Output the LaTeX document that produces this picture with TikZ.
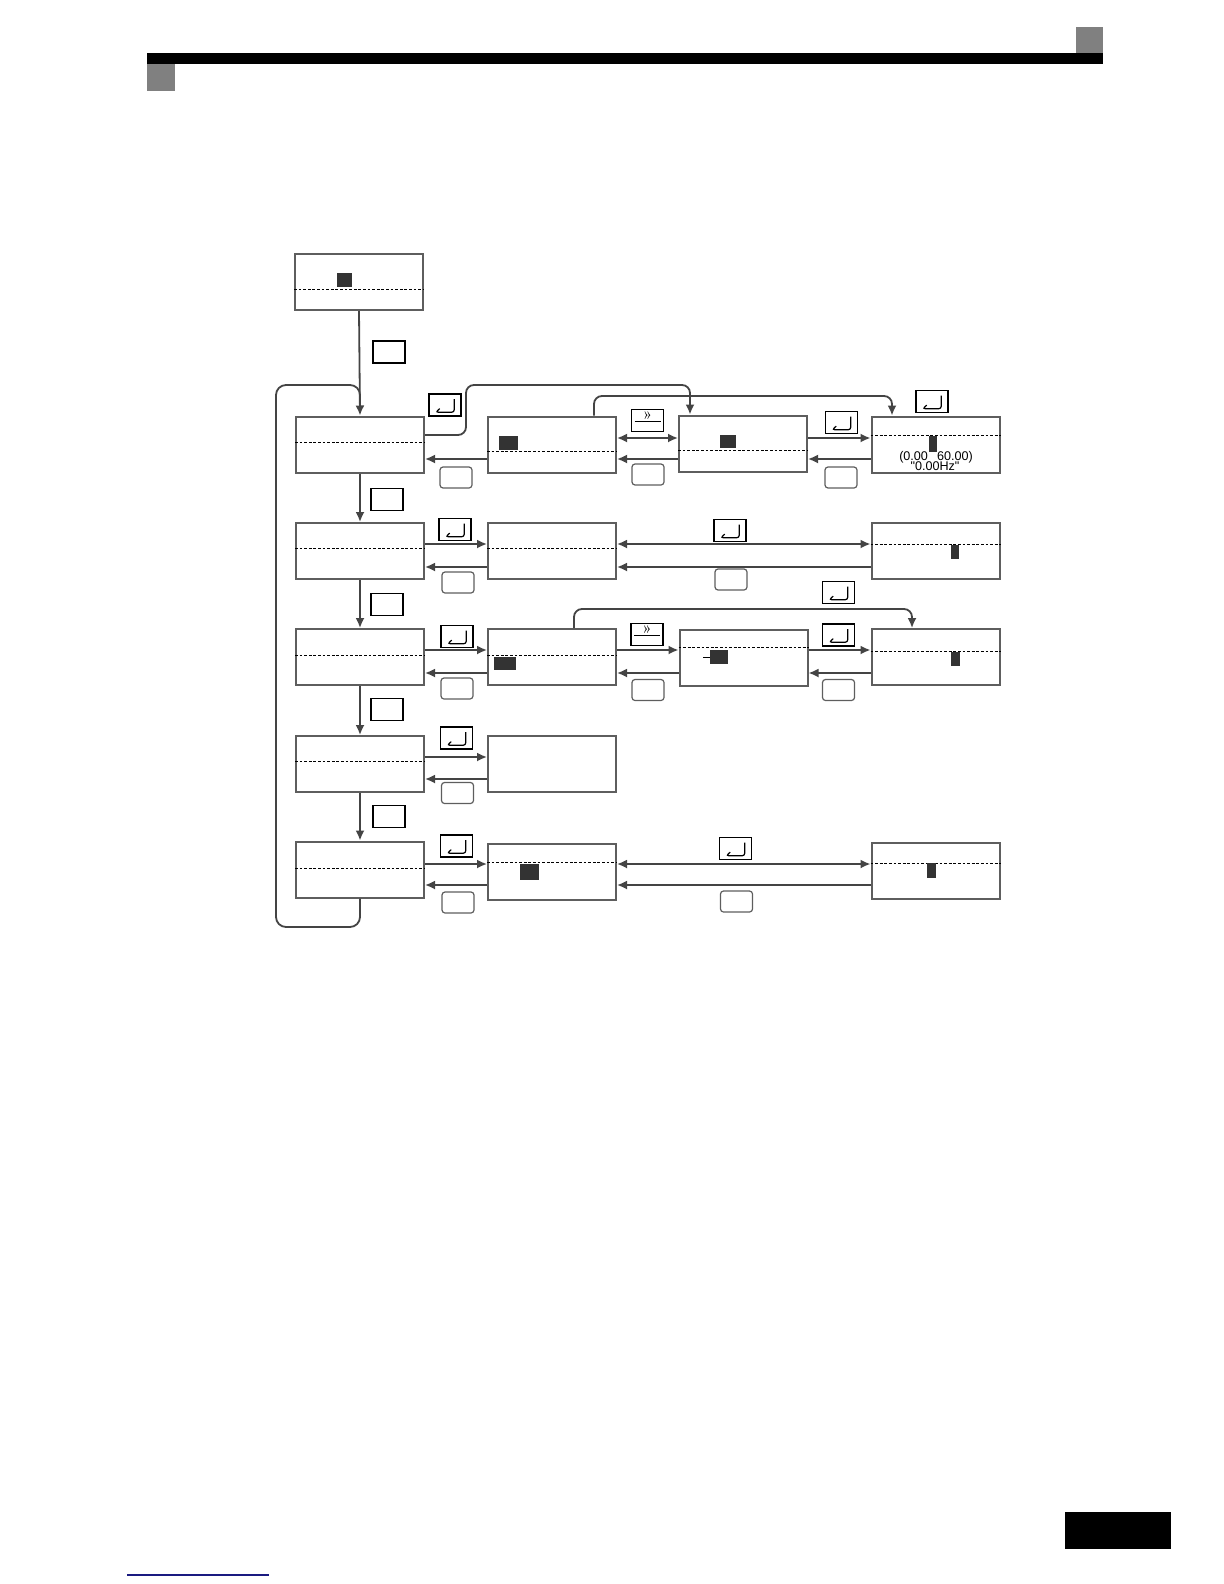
\documentclass[tikz,border=0pt]{standalone}
\usepackage{fontspec}
\newfontfamily\arialfont{Liberation Sans}
\usetikzlibrary{arrows.meta}
\definecolor{boxgray}{HTML}{5E5E5E}
\definecolor{linegray}{HTML}{444444}
\definecolor{fillgray}{HTML}{333333}
\definecolor{lienbleu}{HTML}{1A1A80}
%ligne pointillée dans un écran
\newcommand{\tiret}[2]{\draw[pointille] (#1.west |- 0,#2) -- (#1.east |- 0,#2);}
%touche entrée
\newcommand{\entree}[3]{\node[touche] (#1) at (#2,#3) {};
  \draw[line width=0.6pt,rounded corners=1.2pt] ([xshift=4.6pt,yshift=3pt]#1.center) -- ([xshift=4.6pt,yshift=-3.6pt]#1.center) -- ([xshift=-4.6pt,yshift=-3.6pt]#1.center) -- ([xshift=-2.6pt,yshift=-1.8pt]#1.center);}
%touche décalage
\newcommand{\decale}[3]{\node[touche] (#1) at (#2,#3) {};
  \node[inner sep=0pt,font=\fontsize{8}{8}\selectfont] (#1-g) at ([yshift=2.4pt]#1.center) {»};
  \draw[line width=0.6pt] ([xshift=-6.5pt,yshift=-0.5pt]#1.center) -- ([xshift=6.5pt,yshift=-0.5pt]#1.center);}
\begin{document}
\begin{tikzpicture}[x=0.5pt,y=-0.5pt,
  ecran/.style={draw=boxgray,line width=1pt,minimum width=64pt,minimum height=28pt,inner sep=0pt},
  touche/.style={draw=black,line width=0.6pt,minimum width=16pt,minimum height=11pt,inner sep=0pt},
  esc/.style={touche,draw=boxgray,minimum height=10.5pt,rounded corners=1.5pt},
  trait/.style={draw=linegray,line width=0.9pt},
  fleche/.style={trait,-{Latex[length=5pt,width=4.5pt]}},
  flechedouble/.style={trait,{Latex[length=5pt,width=4.5pt]}-{Latex[length=5pt,width=4.5pt]}},
  pointille/.style={draw=black,line width=0.5pt,dash pattern=on 1.4pt off 0.9pt},
  curseur/.style={fill=fillgray},
  texte/.style={inner sep=0pt,font=\arialfont\fontsize{6.3}{6.5}\selectfont}]
\useasboundingbox (0,0) rectangle (1224,1584);
%en-tête
\fill (147,53) rectangle (1103,64);
\fill[gray] (1076,27) rectangle (1103,53);
\fill[gray] (147,64) rectangle (175,91);
%pied de page
\fill (1065,1512) rectangle (1171,1549);
\draw[lienbleu,line width=0.6pt] (127,1575) -- (269,1575);
%écrans
\node[ecran] (haut) at (359,282) {};
\node[ecran] (r1c1) at (360,444.5) {};
\node[ecran] (r1c2) at (552,444.5) {};
\node[ecran] (r1c3) at (743,443.5) {};
\node[ecran] (r1c4) at (935.5,444.5) {};
\node[ecran] (r2c1) at (360,551) {};
\node[ecran] (r2c2) at (552,551) {};
\node[ecran] (r2c4) at (935.5,551) {};
\node[ecran] (r3c1) at (360,657) {};
\node[ecran] (r3c2) at (552,657) {};
\node[ecran] (r3c3) at (743.5,658) {};
\node[ecran] (r3c4) at (935.5,657) {};
\node[ecran] (r4c1) at (360,764) {};
\node[ecran] (r4c2) at (552,763.5) {};
\node[ecran] (r5c1) at (360,869.5) {};
\node[ecran] (r5c2) at (552,871.5) {};
\node[ecran] (r5c4) at (935.5,871) {};
%pointillés
\tiret{haut}{289}
\tiret{r1c1}{442} \tiret{r1c2}{451} \tiret{r1c3}{450} \tiret{r1c4}{435}
\tiret{r2c1}{548} \tiret{r2c2}{548} \tiret{r2c4}{544}
\tiret{r3c1}{655} \tiret{r3c2}{655} \tiret{r3c3}{647} \tiret{r3c4}{651}
\tiret{r4c1}{761}
\tiret{r5c1}{868} \tiret{r5c2}{862} \tiret{r5c4}{863}
%curseurs
\fill[curseur] (337,273) rectangle (352,287);
\fill[curseur] (499,436) rectangle (518,450);
\fill[curseur] (720,435) rectangle (736,448);
\fill[curseur] (929,436) rectangle (937,452);
\fill[curseur] (951,545) rectangle (959,559);
\fill[curseur] (494,657) rectangle (516,670);
\fill[curseur] (710,650) rectangle (728,664);
\draw[line width=0.5pt] (703,657) -- (710,657);
\fill[curseur] (951,652) rectangle (960,666);
\fill[curseur] (520,864) rectangle (539,880);
\fill[curseur] (927,863) rectangle (936,878);
\node[texte] (plage) at (936,457.5) {(0.00\hspace{4.5pt}60.00)};
\node[texte] (defaut) at (935,466.5) {"0.00Hz"};
%colonne de gauche
\draw[trait,rounded corners=5pt] (r5c1.south) -- (360,927) -- (276,927) -- (276,385) -- (360,385) -- (360,400);
\draw[fleche] (haut.south) -- (r1c1.north);
\draw[fleche] (r1c1.south) -- (r2c1.north);
\draw[fleche] (r2c1.south) -- (r3c1.north);
\draw[fleche] (r3c1.south) -- (r4c1.north);
\draw[fleche] (r4c1.south) -- (r5c1.north);
\node[touche] (bas0) at (389,352) {};
\node[touche] (bas1) at (387,499.5) {};
\node[touche] (bas2) at (387,604.5) {};
\node[touche] (bas3) at (387,709.5) {};
\node[touche] (bas4) at (389,816.5) {};
%Ligne 1
\draw[fleche,rounded corners=4pt] (r1c1.east |- 0,435) -- (466,435) -- (466,385) -- (690,385) -- (r1c3.north -| 690,0);
\draw[fleche,rounded corners=4pt] (r1c2.north -| 594,0) -- (594,396) -- (892,396) -- (r1c4.north -| 892,0);
\entree{e11}{445}{405}
\entree{e14}{932}{401.5}
\draw[fleche] (r1c2.west |- 0,459) -- (r1c1.east |- 0,459);
\node[esc] (s11) at (456,477.5) {};
\draw[flechedouble] (r1c2.east |- 0,438) -- (r1c3.west |- 0,438);
\decale{d12}{647.5}{420.5}
\draw[fleche] (r1c3.west |- 0,459) -- (r1c2.east |- 0,459);
\node[esc] (s12) at (648,474.5) {};
\draw[fleche] (r1c3.east |- 0,438) -- (r1c4.west |- 0,438);
\entree{e13}{841.5}{422.5}
\draw[fleche] (r1c4.west |- 0,459) -- (r1c3.east |- 0,459);
\node[esc] (s13) at (841,477.5) {};
%Ligne 2
\draw[fleche] (r2c1.east |- 0,544) -- (r2c2.west |- 0,544);
\entree{e21}{455}{529.5}
\draw[fleche] (r2c2.west |- 0,567) -- (r2c1.east |- 0,567);
\node[esc] (s21) at (458,582.5) {};
\draw[flechedouble] (r2c2.east |- 0,544) -- (r2c4.west |- 0,544);
\entree{e22}{730}{530.5}
\draw[fleche] (r2c4.west |- 0,567) -- (r2c2.east |- 0,567);
\node[esc] (s22) at (731,579.5) {};
%Ligne 3
\draw[fleche,rounded corners=4pt] (r3c2.north -| 574,0) -- (574,609) -- (912,609) -- (r3c4.north -| 912,0);
\entree{e34}{838.5}{592.5}
\draw[fleche] (r3c1.east |- 0,650) -- (r3c2.west |- 0,650);
\entree{e31}{457}{636.5}
\draw[fleche] (r3c2.west |- 0,673) -- (r3c1.east |- 0,673);
\node[esc] (s31) at (457,688.5) {};
\draw[fleche] (r3c2.east |- 0,650) -- (r3c3.west |- 0,650);
\decale{d32}{647}{634.5}
\draw[fleche] (r3c3.west |- 0,673) -- (r3c2.east |- 0,673);
\node[esc] (s32) at (648,690) {};
\draw[fleche] (r3c3.east |- 0,650) -- (r3c4.west |- 0,650);
\entree{e33}{838.5}{635}
\draw[fleche] (r3c4.west |- 0,673) -- (r3c3.east |- 0,673);
\node[esc] (s33) at (838.5,690) {};
%Ligne 4
\draw[fleche] (r4c1.east |- 0,757) -- (r4c2.west |- 0,757);
\entree{e41}{456.5}{738}
\draw[fleche] (r4c2.west |- 0,779) -- (r4c1.east |- 0,779);
\node[esc] (s41) at (457.5,793) {};
%Ligne 5
\draw[fleche] (r5c1.east |- 0,864) -- (r5c2.west |- 0,864);
\entree{e51}{456.5}{846}
\draw[fleche] (r5c2.west |- 0,885) -- (r5c1.east |- 0,885);
\node[esc] (s51) at (458,902.5) {};
\draw[flechedouble] (r5c2.east |- 0,864) -- (r5c4.west |- 0,864);
\entree{e52}{735.5}{848.5}
\draw[fleche] (r5c4.west |- 0,885) -- (r5c2.east |- 0,885);
\node[esc] (s52) at (736.5,901.5) {};
\end{tikzpicture}
\end{document}
